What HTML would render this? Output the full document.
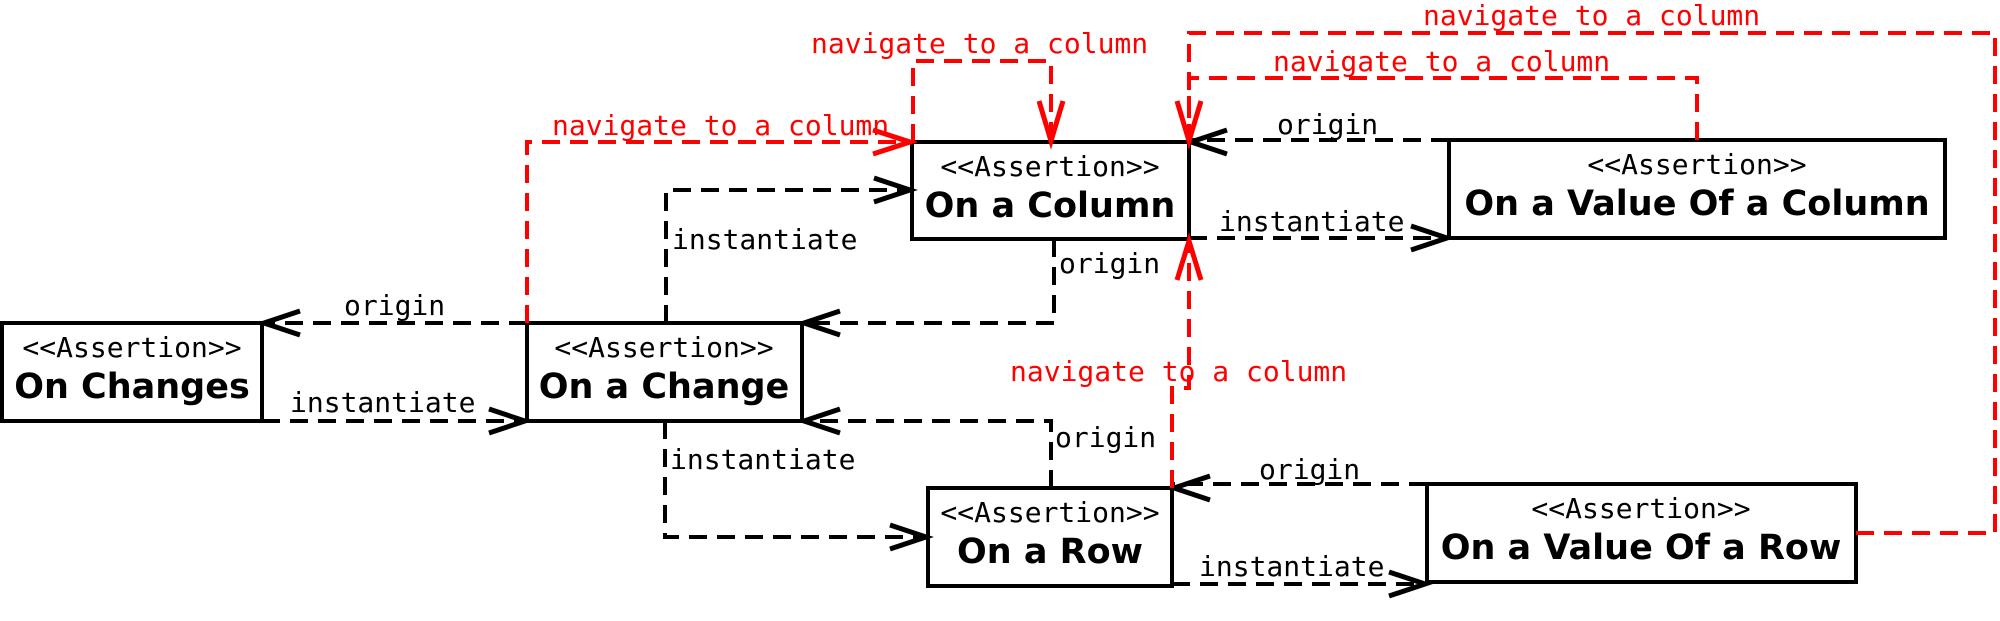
<!DOCTYPE html>
<html><head><meta charset="utf-8"><style>
html,body{margin:0;padding:0;background:#fff;width:2000px;height:621px;overflow:hidden}
svg{display:block}
.m{font-family:"DejaVu Sans Mono","Liberation Mono",monospace;font-size:28px}
.t{font-family:"DejaVu Sans","Liberation Sans",sans-serif;font-size:35px;font-weight:bold}
</style></head><body>
<svg width="2000" height="621" viewBox="0 0 2000 621" xmlns="http://www.w3.org/2000/svg">
<g fill="none" stroke-width="4">
<g stroke="#000">
<rect x="2" y="323" width="260" height="98"/>
<rect x="527" y="323" width="275" height="98"/>
<rect x="912" y="142" width="277" height="97"/>
<rect x="928" y="488" width="244" height="98"/>
<rect x="1449" y="140" width="496" height="98"/>
<rect x="1427" y="484" width="429" height="98"/>
</g>
<g stroke="#000" stroke-dasharray="18 10">
<path d="M527 323 H262"/>
<path d="M262 421 H527"/>
<path d="M666 323 V190 H912"/>
<path d="M665 421 V537 H928"/>
<path d="M1054 239 V323 H802"/>
<path d="M1051 488 V421 H802"/>
<path d="M1449 140 H1189"/>
<path d="M1189 238 H1449"/>
<path d="M1427 484 H1172"/>
<path d="M1172 584 H1427"/>
</g>
<g stroke="#000" stroke-width="5">
<path d="M300 311 L264 323 L300 335"/>
<path d="M489 409 L525 421 L489 433"/>
<path d="M874 178 L910 190 L874 202"/>
<path d="M890 525 L926 537 L890 549"/>
<path d="M840 311 L804 323 L840 335"/>
<path d="M840 409 L804 421 L840 433"/>
<path d="M1227 130 L1191 142 L1227 154"/>
<path d="M1411 226 L1447 238 L1411 250"/>
<path d="M1210 476 L1174 488 L1210 500"/>
<path d="M1389 572 L1425 584 L1389 596"/>
</g>
<g stroke="#f00" stroke-dasharray="18 10">
<path d="M527 323 V142 H912"/>
<path d="M913 142 V61 H1051 V142"/>
<path d="M1697 140 V78 H1189 V142"/>
<path d="M1856 533 H1995 V33 H1189 V142"/>
<path d="M1172 488 V388 H1189 V240"/>
</g>
<g stroke="#f00" stroke-width="5">
<path d="M873 130 L910 142 L873 154"/>
<path d="M1039 101 L1051 141 L1063 101"/>
<path d="M1177 101 L1189 141 L1201 101"/>
<path d="M1177 280 L1189 241 L1201 280"/>
</g>
</g>
<g text-anchor="middle">
<text class="m" x="132" y="357">&lt;&lt;Assertion&gt;&gt;</text>
<text class="t" x="132" y="398">On Changes</text>
<text class="m" x="664" y="357">&lt;&lt;Assertion&gt;&gt;</text>
<text class="t" x="664" y="398">On a Change</text>
<text class="m" x="1050" y="176">&lt;&lt;Assertion&gt;&gt;</text>
<text class="t" x="1050" y="217">On a Column</text>
<text class="m" x="1050" y="522">&lt;&lt;Assertion&gt;&gt;</text>
<text class="t" x="1050" y="563">On a Row</text>
<text class="m" x="1697" y="174">&lt;&lt;Assertion&gt;&gt;</text>
<text class="t" x="1697" y="215">On a Value Of a Column</text>
<text class="m" x="1641" y="518">&lt;&lt;Assertion&gt;&gt;</text>
<text class="t" x="1641" y="559">On a Value Of a Row</text>
</g>
<g class="m" fill="#000">
<text x="344" y="315">origin</text>
<text x="290" y="412">instantiate</text>
<text x="672" y="249">instantiate</text>
<text x="670" y="469">instantiate</text>
<text x="1059" y="273">origin</text>
<text x="1055" y="447">origin</text>
<text x="1277" y="134">origin</text>
<text x="1219" y="231">instantiate</text>
<text x="1259" y="479">origin</text>
<text x="1199" y="576">instantiate</text>
</g>
<g class="m" fill="#f00">
<text x="552" y="135">navigate to a column</text>
<text x="811" y="53">navigate to a column</text>
<text x="1273" y="71">navigate to a column</text>
<text x="1423" y="25">navigate to a column</text>
<text x="1010" y="381">navigate to a column</text>
</g>
</svg>
</body></html>
